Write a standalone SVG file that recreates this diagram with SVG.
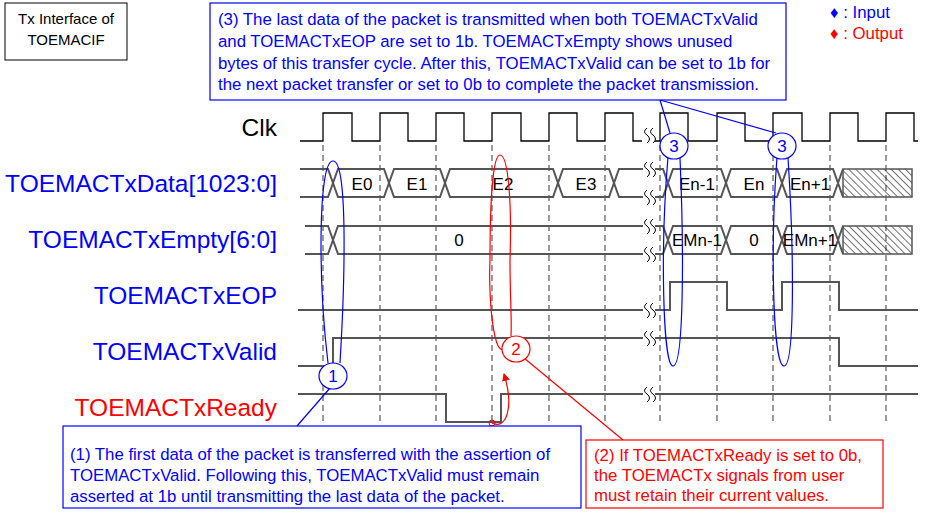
<svg xmlns="http://www.w3.org/2000/svg" width="925" height="517" viewBox="0 0 925 517">
<defs>
<style>
.sig{fill:none;stroke:#555;stroke-width:2}
.clk{fill:none;stroke:#000;stroke-width:1.3}
.dash{stroke:#666;stroke-width:1.3;stroke-dasharray:6,4}
.lbl{font-family:"Liberation Sans",Arial,sans-serif;font-size:24.5px;text-anchor:end}
.txt{font-family:"Liberation Sans",Arial,sans-serif;font-size:16.8px}
.val{font-family:"Liberation Sans",Arial,sans-serif;font-size:17px;text-anchor:middle;fill:#000}
.brk{fill:none;stroke:#000;stroke-width:1}
.blue{fill:none;stroke:#00f;stroke-width:1.2}
.red{fill:none;stroke:#f00;stroke-width:1.2}
</style>
<pattern id="hatch" width="5" height="5" patternUnits="userSpaceOnUse" patternTransform="rotate(-45)">
<line x1="0" y1="0" x2="0" y2="5" stroke="#000" stroke-width="1.1"/>
</pattern>
<marker id="arr" markerWidth="8" markerHeight="8" refX="7" refY="4" orient="auto" markerUnits="userSpaceOnUse"><path d="M0,0 L8,4 L0,8 Z" fill="#f00"/></marker>
</defs>
<rect width="925" height="517" fill="#fff"/>

<g id="title"><rect x="5" y="3" width="122" height="57" fill="#fff" stroke="#000"/>
<text class="txt" x="66" y="24" text-anchor="middle" style="font-size:15px">Tx Interface of</text>
<text class="txt" x="66" y="45" text-anchor="middle" style="font-size:15px">TOEMACIF</text></g>

<g id="legend"><text class="txt" x="830" y="18" fill="#00f">♦ : Input</text>
<text class="txt" x="830" y="39" fill="#f00">♦ : Output</text></g>

<g id="labels">
<text class="lbl" x="277" y="136" fill="#000">Clk</text>
<text class="lbl" x="277" y="192" fill="#00f">TOEMACTxData[1023:0]</text>
<text class="lbl" x="277" y="248" fill="#00f">TOEMACTxEmpty[6:0]</text>
<text class="lbl" x="277" y="304" fill="#00f">TOEMACTxEOP</text>
<text class="lbl" x="277" y="360" fill="#00f">TOEMACTxValid</text>
<text class="lbl" x="277" y="416" fill="#f00">TOEMACTxReady</text>
</g>

<g id="grid">
<line class="dash" x1="323" y1="145" x2="323" y2="425"/><line class="dash" x1="380" y1="145" x2="380" y2="425"/>
<line class="dash" x1="436" y1="145" x2="436" y2="425"/><line class="dash" x1="492" y1="145" x2="492" y2="425"/>
<line class="dash" x1="549" y1="145" x2="549" y2="425"/><line class="dash" x1="605" y1="145" x2="605" y2="425"/>
<line class="dash" x1="660" y1="145" x2="660" y2="425"/><line class="dash" x1="717" y1="145" x2="717" y2="425"/>
<line class="dash" x1="773" y1="145" x2="773" y2="425"/><line class="dash" x1="830" y1="145" x2="830" y2="425"/>
<line class="dash" x1="886" y1="145" x2="886" y2="425"/>
</g>

<g id="clk">
<path class="clk" d="M300,141 H323 V113 H352 V141 H380 V113 H408 V141 H436 V113 H464 V141 H492 V113 H521 V141 H549 V113 H577 V141 H605 V113 H633 V141 H642"/>
<path class="clk" d="M655,141 H660 V113 H688 V141 H717 V113 H745 V141 H773 V113 H802 V141 H830 V113 H858 V141 H886 V113 H914 V141 H918"/>
</g>

<g id="data">
<path class="sig" d="M300,169 H328 L338,197 H384 L394,169 H440 L450,197 H553 L563,169 H609 L619,197 H643"/>
<path class="sig" d="M300,197 H328 L338,169 H384 L394,197 H440 L450,169 H553 L563,197 H609 L619,169 H643"/>
<path class="sig" d="M655,169 H663 L673,197 H721 L731,169 H777 L787,197 H833 L843,169 M655,197 H663 L673,169 H721 L731,197 H777 L787,169 H833 L843,197"/>
<rect x="843" y="169" width="69" height="28" fill="url(#hatch)" stroke="#555" stroke-width="1.5"/>
<text class="val" x="362" y="190">E0</text><text class="val" x="417" y="190">E1</text>
<text class="val" x="503" y="190">E2</text><text class="val" x="586" y="190">E3</text>
<text class="val" x="697" y="190">En-1</text><text class="val" x="754" y="190">En</text><text class="val" x="810" y="190">En+1</text>
</g>

<g id="empty">
<path class="sig" d="M305,226 H328 L338,254 H643 M305,254 H328 L338,226 H643"/>
<path class="sig" d="M655,226 H663 L673,254 H721 L731,226 H777 L787,254 H833 L843,226 M655,254 H663 L673,226 H721 L731,254 H777 L787,226 H833 L843,254"/>
<rect x="843" y="226" width="69" height="28" fill="url(#hatch)" stroke="#555" stroke-width="1.5"/>
<text class="val" x="459" y="246">0</text>
<text class="val" x="697" y="246">EMn-1</text><text class="val" x="754" y="246">0</text><text class="val" x="810" y="246">EMn+1</text>
</g>

<g id="eop"><path class="sig" d="M298,310 H643 M655,310 H670 V282 H727 V310 H782 V282 H839 V310 H918"/></g>
<g id="valid"><path class="sig" d="M298,366 H333 V338 H643 M655,338 H839 V366 H918"/></g>
<g id="ready"><path class="sig" d="M298,394 H446 V422 H501 V394 H643 M655,394 H918" stroke="#333"/></g>

<g id="breaks" class="brk">
<path class="brk" d="M647,128 q-5,4 0,7 q5,4 0,8 M653,128 q-5,4 0,7 q5,4 0,8"/>
<path class="brk" d="M647,162 q-5,4 0,7 q5,4 0,8 M653,162 q-5,4 0,7 q5,4 0,8"/>
<path class="brk" d="M647,190 q-5,4 0,7 q5,4 0,8 M653,190 q-5,4 0,7 q5,4 0,8"/>
<path class="brk" d="M647,219 q-5,4 0,7 q5,4 0,8 M653,219 q-5,4 0,7 q5,4 0,8"/>
<path class="brk" d="M647,247 q-5,4 0,7 q5,4 0,8 M653,247 q-5,4 0,7 q5,4 0,8"/>
<path class="brk" d="M647,303 q-5,4 0,7 q5,4 0,8 M653,303 q-5,4 0,7 q5,4 0,8"/>
<path class="brk" d="M647,331 q-5,4 0,7 q5,4 0,8 M653,331 q-5,4 0,7 q5,4 0,8"/>
<path class="brk" d="M647,387 q-5,4 0,7 q5,4 0,8 M653,387 q-5,4 0,7 q5,4 0,8"/>
</g>

<g id="connectors">
<path class="blue" d="M328,363 C318,280 318,160 333,161 C348,160 345,280 340,363"/>
<line class="blue" x1="330" y1="388" x2="297" y2="426"/>
<path class="blue" d="M668,157 C660,250 663,366 673,366 C684,366 684,250 680,158"/>
<path class="blue" d="M777,157 C770,250 773,366 784,366 C795,366 794,250 788,158"/>
<line class="blue" x1="660" y1="100" x2="670" y2="133"/>
<line class="blue" x1="660" y1="100" x2="776" y2="133"/>
<path class="red" d="M510,337 C495,380 488,300 490,260 C490,200 493,155 500,155 C508,155 512,200 510,260 C510,300 512,320 511,336"/>
<path class="red" d="M492,423 C505,430 515,410 504,374" marker-end="url(#arr)"/>
<circle cx="492" cy="423" r="3" fill="none" stroke="#f00"/>
<line class="red" x1="524" y1="358" x2="623" y2="440"/>
</g>

<g id="circles">
<ellipse cx="333" cy="376" rx="14" ry="13" fill="#fff" stroke="#00f" stroke-width="1.2"/>
<text class="val" x="333" y="382" style="fill:#00f">1</text>
<ellipse cx="516" cy="349" rx="14" ry="13" fill="#fff" stroke="#f00" stroke-width="1.2"/>
<text class="val" x="516" y="355" style="fill:#f00">2</text>
<ellipse cx="674" cy="146" rx="14" ry="13" fill="#fff" stroke="#00f" stroke-width="1.2"/>
<text class="val" x="674" y="152" style="fill:#00f">3</text>
<ellipse cx="782" cy="146" rx="14" ry="13" fill="#fff" stroke="#00f" stroke-width="1.2"/>
<text class="val" x="782" y="152" style="fill:#00f">3</text>
</g>

<g id="note3"><rect x="210" y="3" width="576" height="97" fill="#fff" stroke="#00f" stroke-width="1.2"/>
<text class="txt" fill="#00f" x="218" y="25">(3) The last data of the packet is transmitted when both TOEMACTxValid</text>
<text class="txt" fill="#00f" x="218" y="47">and TOEMACTxEOP are set to 1b. TOEMACTxEmpty shows unused</text>
<text class="txt" fill="#00f" x="218" y="69">bytes of this transfer cycle. After this, TOEMACTxValid can be set to 1b for</text>
<text class="txt" fill="#00f" x="218" y="90">the next packet transfer or set to 0b to complete the packet transmission.</text></g>

<g id="note1"><rect x="63" y="426" width="518" height="82" fill="#fff" stroke="#00f" stroke-width="1.2"/>
<text class="txt" fill="#00f" x="70" y="460">(1) The first data of the packet is transferred with the assertion of</text>
<text class="txt" fill="#00f" x="70" y="481">TOEMACTxValid. Following this, TOEMACTxValid must remain</text>
<text class="txt" fill="#00f" x="70" y="502">asserted at 1b until transmitting the last data of the packet.</text></g>

<g id="note2"><rect x="586" y="440" width="297" height="68" fill="#fff" stroke="#f00" stroke-width="1.2"/>
<text class="txt" fill="#f00" x="594" y="461">(2) If TOEMACTxReady is set to 0b,</text>
<text class="txt" fill="#f00" x="594" y="481">the TOEMACTx signals from user</text>
<text class="txt" fill="#f00" x="594" y="501">must retain their current values.</text></g>
</svg>
